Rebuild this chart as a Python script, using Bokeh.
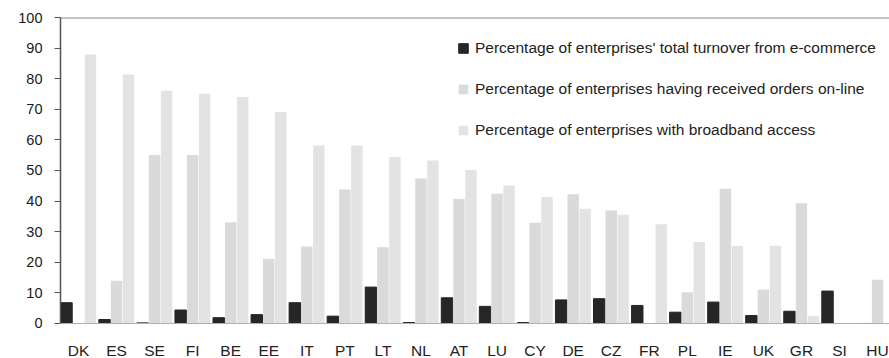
import numpy as np
from bokeh.plotting import figure
from bokeh.models import (ColumnDataSource, Range1d, FixedTicker, Legend, LegendItem, Span)
from bokeh.core.properties import value
from bokeh.transform import dodge
from bokeh.embed import file_html
from bokeh.resources import INLINE

# Countries, sorted as in the published figure
countries = ["DK", "ES", "SE", "FI", "BE", "EE", "IT", "PT", "LT", "NL", "AT",
             "LU", "CY", "DE", "CZ", "FR", "PL", "IE", "UK", "GR", "SI", "HU"]

# Share of enterprises' total turnover coming from e-commerce (%)
turnover_ecommerce = [6.8, 1.3, 0.2, 4.4, 1.9, 2.9, 6.8, 2.4, 11.9, 0.3, 8.4,
                      5.6, 0.3, 7.7, 8.1, 5.9, 3.7, 7.0, 2.6, 4.0, 10.6, 0.0]

# Enterprises having received orders on-line (%)
orders_online = [0.0, 14.0, 55.1, 55.1, 33.1, 21.1, 25.2, 43.8, 24.9, 47.4, 40.7,
                 42.4, 32.9, 42.2, 36.9, 0.0, 10.2, 44.0, 11.1, 39.3, 0.0, 14.3]

# Enterprises with broadband access (%)
broadband_access = [87.9, 81.4, 76.1, 75.1, 74.0, 69.1, 58.2, 58.2, 54.4, 53.3, 50.2,
                    45.1, 41.3, 37.5, 35.5, 32.4, 26.6, 25.3, 25.4, 2.5, 0.0, 0.0]

series_labels = ["Percentage of enterprises' total turnover from e-commerce",
                 "Percentage of enterprises having received orders on-line",
                 "Percentage of enterprises with broadband access"]

y_ticks = list(range(0, 101, 10))

FONT = "Liberation Sans"
C_DARK = "#262626"
C_ORDERS = "#dadada"
C_BROAD = "#e3e3e3"

pos = list(range(len(countries)))
src = ColumnDataSource(dict(x=pos, turnover=turnover_ecommerce,
                            orders=orders_online, broadband=broadband_access,
                            name=countries, base=[0] * len(countries)))

# the frame runs below zero so the country names sit inside it, under the baseline
p = figure(width=889, height=358, output_backend="svg", toolbar_location=None,
           x_range=Range1d(-0.473, 21.314), y_range=Range1d(-11.44, 100),
           x_axis_location=None,
           min_border_left=60, min_border_right=0, min_border_top=17,
           min_border_bottom=0, outline_line_color=None,
           background_fill_color="white", border_fill_color="white")

bw = 0.30
step = 0.315
r_turn = p.vbar(x=dodge("x", -step, range=p.x_range), top="turnover", width=bw,
                source=src, fill_color=C_DARK, line_color=C_DARK)
r_ord = p.vbar(x=dodge("x", 0, range=p.x_range), top="orders", width=bw,
               source=src, fill_color=C_ORDERS, line_color=None)
r_brd = p.vbar(x=dodge("x", step, range=p.x_range), top="broadband", width=bw,
               source=src, fill_color=C_BROAD, line_color=None)

# baseline and top frame line
p.add_layout(Span(location=0, dimension="width", line_color="#b0b0b0", line_width=1))
p.add_layout(Span(location=100, dimension="width", line_color="#8a8a8a", line_width=2))

# country names under the baseline
p.text(x="x", y="base", text="name", source=src, y_offset=19,
       text_align="center", text_baseline="top",
       text_font=value(FONT), text_font_size="15.5px", text_color="#222222")

p.xgrid.visible = False
p.ygrid.visible = False

# y axis, line limited to 0..100
ya = p.yaxis[0]
ya.ticker = FixedTicker(ticks=y_ticks)
ya.bounds = (0, 100)
ya.axis_line_color = "#555555"
ya.axis_line_width = 1.5
ya.major_tick_line_color = "#555555"
ya.major_tick_in = 0
ya.major_tick_out = 6
ya.minor_tick_line_color = None
ya.major_label_standoff = 12
ya.major_label_text_font = FONT
ya.major_label_text_font_size = "14.5px"
ya.major_label_text_color = "#1a1a1a"

legend = Legend(items=[LegendItem(label=series_labels[0], renderers=[r_turn]),
                       LegendItem(label=series_labels[1], renderers=[r_ord]),
                       LegendItem(label=series_labels[2], renderers=[r_brd])],
                location=(397, 218), orientation="vertical",
                background_fill_alpha=0, border_line_color=None,
                padding=0, margin=0, spacing=21,
                glyph_width=12, glyph_height=12, label_height=20,
                label_standoff=6,
                label_text_font=FONT, label_text_font_size="15.5px",
                label_text_color="#222222")
p.add_layout(legend, "center")

open("out.html", "w").write(file_html(p, INLINE))
